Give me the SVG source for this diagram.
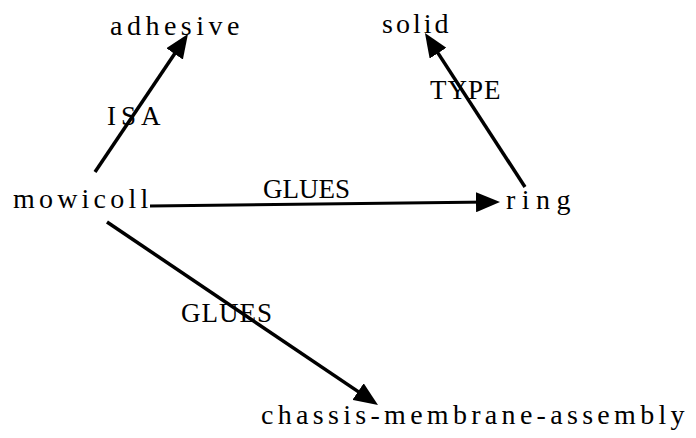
<svg xmlns="http://www.w3.org/2000/svg" width="696" height="438" viewBox="0 0 696 438">
<style>
.node{font-family:"Liberation Serif","Times New Roman",serif;font-size:28px;fill:#000;letter-spacing:4.5px}
.lbl{font-family:"Liberation Serif","Times New Roman",serif;font-size:27px;fill:#000;letter-spacing:1px}
.edge{stroke:#000;stroke-width:3.5;fill:none;marker-end:url(#ah)}
</style>
<defs>
<marker id="ah" viewBox="0 0 24 20" markerWidth="24" markerHeight="20" refX="14" refY="10" orient="auto" markerUnits="userSpaceOnUse">
<path d="M0,0 L24,10 L0,20 Z" fill="#000"/>
</marker>
</defs>
<rect width="696" height="438" fill="#fff"/>
<g id="connectors">
<line class="edge" x1="95" y1="172" x2="182.4" y2="42.3"/>
<line class="edge" x1="525" y1="187" x2="430.4" y2="41.4"/>
<line class="edge" x1="150" y1="206" x2="490" y2="202.1" style="stroke-width:3"/>
<line class="edge" x1="107" y1="222" x2="369.7" y2="399.4"/>
<text class="lbl" x="107" y="125" style="letter-spacing:5px">ISA</text>
<text class="lbl" x="430" y="99">TYPE</text>
<text class="lbl" x="263" y="198" style="letter-spacing:0">GLUES</text>
<text class="lbl" x="181" y="322">GLUES</text>
</g>
<g id="node-adhesive"><text class="node" x="110" y="35">adhesive</text></g>
<g id="node-solid"><text class="node" x="382" y="33" style="letter-spacing:3px">solid</text></g>
<g id="node-mowicoll"><text class="node" x="13" y="208" style="letter-spacing:4.2px">mowicoll</text></g>
<g id="node-ring"><text class="node" x="506" y="209" style="letter-spacing:6.5px">ring</text></g>
<g id="node-chassis-membrane-assembly"><text class="node" x="261" y="424" style="letter-spacing:4.3px">chassis-membrane-assembly</text></g>
</svg>
